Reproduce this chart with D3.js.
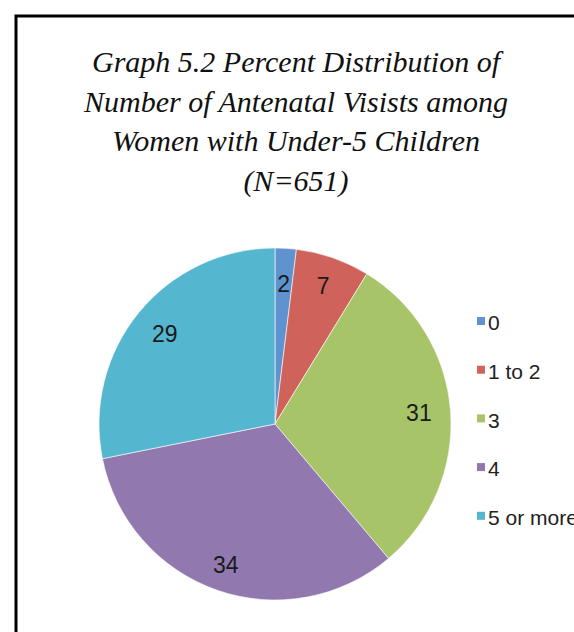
<!DOCTYPE html>
<html>
<head>
<meta charset="utf-8">
<script src="https://cdn.jsdelivr.net/npm/d3@7"></script>
<style>
  body { margin:0; background:#fff; }
  svg { display:block; }
</style>
</head>
<body>
<svg id="chart" width="574" height="632"></svg>
<script>
// data
var categories = ["0", "1 to 2", "3", "4", "5 or more"];
var values = [2, 7, 31, 34, 29];
var colors = ["#5f93cf", "#d0625c", "#a8c468", "#9179b0", "#55b6cf"];
var titleLines = ["Graph 5.2 Percent Distribution of",
                  "Number of Antenatal Visists among",
                  "Women with Under-5 Children",
                  "(N=651)"];

var svg = d3.select('#chart');

// frame
svg.append('path')
  .attr('d', 'M16,640 L16,16 L600,16')
  .style('fill', 'none')
  .style('stroke', '#000')
  .style('stroke-width', 3);

// title
svg.append('g').selectAll('text')
  .data(titleLines)
  .enter()
  .append('text')
  .attr('x', 296)
  .attr('y', function(d,i){ return 72 + i*39.5; })
  .attr('text-anchor', 'middle')
  .style('font-family', '"Liberation Serif", serif')
  .style('font-style', 'italic')
  .style('font-size', '30px')
  .style('fill', '#111')
  .text(function(d){ return d; });

// pie
var cx = 275, cy = 424, r = 176;
var pie = d3.pie().sort(null).value(function(d){ return d; });
var arc = d3.arc().innerRadius(0).outerRadius(r);
var arcs = pie(values);

var g = svg.append('g').attr('transform', 'translate('+cx+','+cy+')');
g.selectAll('.slice')
  .data(arcs)
  .enter()
  .append('path')
  .attr('class', 'slice')
  .attr('d', arc)
  .style('fill', function(d,i){ return colors[i]; })
  .style('stroke', '#fff')
  .style('stroke-width', 0.6);

// labels (placed at per-slice radius fractions)
var labelR = [0.80, 0.83, 0.82, 0.85, 0.81];
g.selectAll('.lbl')
  .data(arcs)
  .enter()
  .append('text')
  .attr('class', 'lbl')
  .attr('transform', function(d,i){
    var a = (d.startAngle + d.endAngle)/2, rr = r*labelR[i];
    return 'translate(' + (Math.sin(a)*rr) + ',' + (-Math.cos(a)*rr) + ')';
  })
  .attr('text-anchor', 'middle')
  .attr('dy', '0.35em')
  .style('font-family', '"Liberation Sans", Arial, sans-serif')
  .style('font-size', '23px')
  .style('fill', '#1a1a1a')
  .text(function(d){ return d.data; });

// legend
var legend = svg.append('g').attr('transform', 'translate(477,323)');
var item = legend.selectAll('.item')
  .data(categories)
  .enter()
  .append('g')
  .attr('class', 'item')
  .attr('transform', function(d,i){ return 'translate(0,' + (i*48.7) + ')'; });
item.append('rect')
  .attr('x', 0).attr('y', -6)
  .attr('width', 8).attr('height', 8)
  .style('fill', function(d,i){ return colors[i]; });
item.append('text')
  .attr('x', 11)
  .attr('dy', '0.35em')
  .style('font-family', '"Liberation Sans", Arial, sans-serif')
  .style('font-size', '21px')
  .style('fill', '#222')
  .text(function(d){ return d; });
</script>
</body>
</html>
